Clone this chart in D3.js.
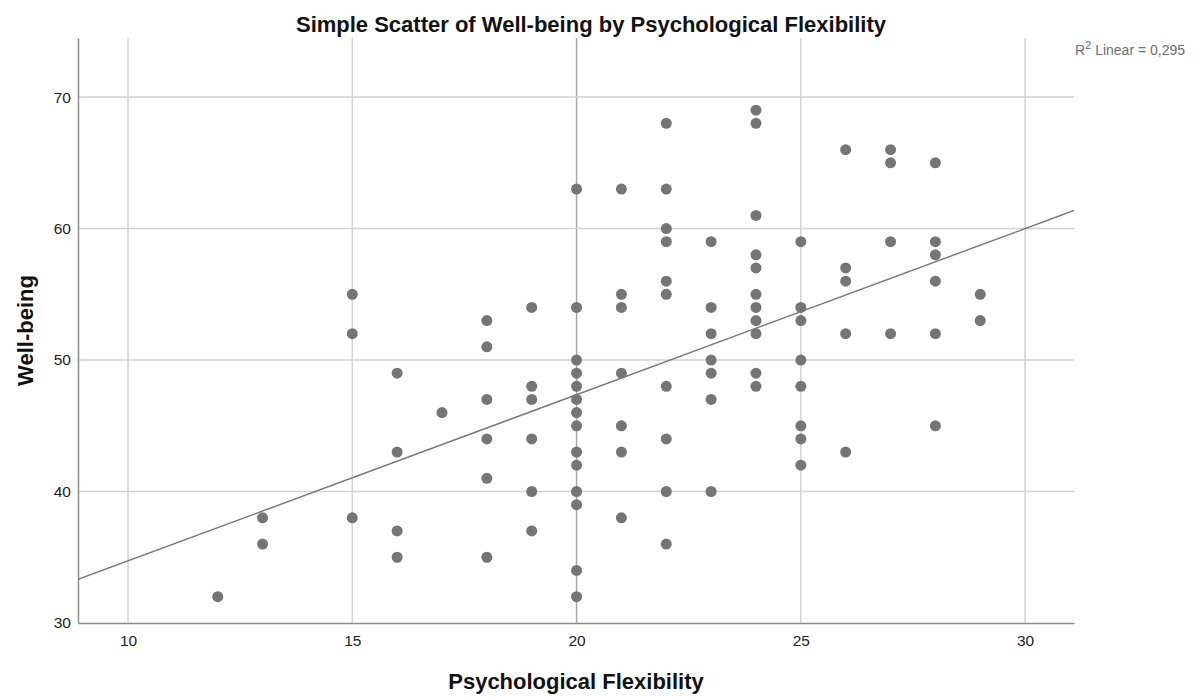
<!DOCTYPE html>
<html>
<head>
<meta charset="utf-8">
<script src="https://cdn.jsdelivr.net/npm/d3@7"></script>
<style>
  body { margin: 0; background: #fff; }
  text { font-family: "Liberation Sans", Arial, sans-serif; }
</style>
</head>
<body>
<script>
// data: each x value with the well-being scores at it
const flexValues = [12, 13, 15, 16, 17, 18, 19, 20, 21, 22, 23, 24, 25, 26, 27, 28, 29];
const wellbeingByFlex = [
  [32],
  [38, 36],
  [55, 52, 38],
  [49, 43, 37, 35],
  [46],
  [53, 51, 47, 44, 41, 35],
  [54, 48, 47, 44, 40, 37],
  [63, 54, 50, 49, 48, 47, 46, 45, 43, 42, 40, 39, 34, 32],
  [63, 55, 54, 49, 45, 43, 38],
  [68, 63, 60, 59, 56, 55, 48, 44, 40, 36],
  [59, 54, 52, 50, 49, 47, 40],
  [69, 68, 61, 58, 57, 55, 54, 53, 52, 49, 48],
  [59, 54, 53, 50, 48, 45, 44, 42],
  [66, 57, 56, 52, 43],
  [66, 65, 59, 52],
  [65, 59, 58, 56, 52, 45],
  [55, 53]
];
const xTicks = [10, 15, 20, 25, 30];
const yTicks = [30, 40, 50, 60, 70];
const fitIntercept = 22.09;
const fitSlope = 1.2636;
const rSquared = "0,295";

const width = 1200, height = 697;
const margin = { left: 78, top: 38, right: 126, bottom: 74 };
const plotW = width - margin.left - margin.right;
const plotH = height - margin.top - margin.bottom;

const points = [];
flexValues.forEach((x, i) => wellbeingByFlex[i].forEach(y => points.push([x, y])));

const svg = d3.select("body")
  .append("svg")
  .attr("width", width)
  .attr("height", height);

const g = svg.append("g")
  .attr("transform", `translate(${margin.left},${margin.top})`);

const xScale = d3.scaleLinear([8.885, 31.09], [0, plotW]);
const yScale = d3.scaleLinear([30, 74.49], [plotH, 0]);

g.append("clipPath")
  .attr("id", "plot-area")
  .append("rect")
  .attr("width", plotW)
  .attr("height", plotH);

// grid lines
g.selectAll(".vgrid")
  .data(xTicks)
  .join("line")
  .attr("x1", d => xScale(d)).attr("x2", d => xScale(d))
  .attr("y1", 0).attr("y2", plotH)
  .attr("stroke", d => d === 20 ? "#a6a6a6" : "#d2d2d2")
  .attr("stroke-width", 1.5);

g.selectAll(".hgrid")
  .data(yTicks.filter(d => d !== 30))
  .join("line")
  .attr("x1", 0).attr("x2", plotW)
  .attr("y1", d => yScale(d)).attr("y2", d => yScale(d))
  .attr("stroke", "#d2d2d2")
  .attr("stroke-width", 1.5);

// axes
const xAxis = d3.axisBottom(xScale).tickValues(xTicks).tickSize(0).tickPadding(12);
const yAxis = d3.axisLeft(yScale).tickValues(yTicks).tickSize(0).tickPadding(7);

const gx = g.append("g")
  .attr("transform", `translate(0,${plotH})`)
  .call(xAxis);
const gy = g.append("g").call(yAxis);

[gx, gy].forEach(a => {
  a.select(".domain").attr("stroke", "#8c8c8c").attr("stroke-width", 1.5);
  a.selectAll("text")
    .attr("fill", "#222")
    .style("font-size", "15.5px")
    .style("font-family", "'Liberation Sans', Arial, sans-serif");
});

// regression line
const fitLine = d3.line()
  .x(d => xScale(d))
  .y(d => yScale(fitIntercept + fitSlope * d));

g.append("path")
  .datum(xScale.domain())
  .attr("clip-path", "url(#plot-area)")
  .attr("fill", "none")
  .attr("stroke", "#7a7a7a")
  .attr("stroke-width", 1.5)
  .attr("d", fitLine);

// points
g.selectAll(".pt")
  .data(points)
  .join("circle")
  .attr("cx", d => xScale(d[0]))
  .attr("cy", d => yScale(d[1]))
  .attr("r", 5.5)
  .attr("fill", "#757575");

// titles
svg.append("text")
  .attr("x", 591)
  .attr("y", 31.5)
  .attr("text-anchor", "middle")
  .style("font-size", "22px")
  .style("font-weight", "bold")
  .attr("fill", "#111")
  .text("Simple Scatter of Well-being by Psychological Flexibility");

svg.append("text")
  .attr("x", 576)
  .attr("y", 689)
  .attr("text-anchor", "middle")
  .style("font-size", "22px")
  .style("font-weight", "bold")
  .attr("fill", "#111")
  .text("Psychological Flexibility");

svg.append("text")
  .attr("transform", `translate(33,${margin.top + plotH / 2}) rotate(-90)`)
  .attr("text-anchor", "middle")
  .style("font-size", "22px")
  .style("font-weight", "bold")
  .attr("fill", "#111")
  .text("Well-being");

const r2 = svg.append("text")
  .attr("x", 1075)
  .attr("y", 55)
  .style("font-size", "14px")
  .attr("fill", "#6e6e6e");
r2.append("tspan").text("R");
r2.append("tspan").attr("dy", -6).style("font-size", "11px").text("2");
r2.append("tspan").attr("dy", 6).text(" Linear = " + rSquared);
</script>
</body>
</html>
